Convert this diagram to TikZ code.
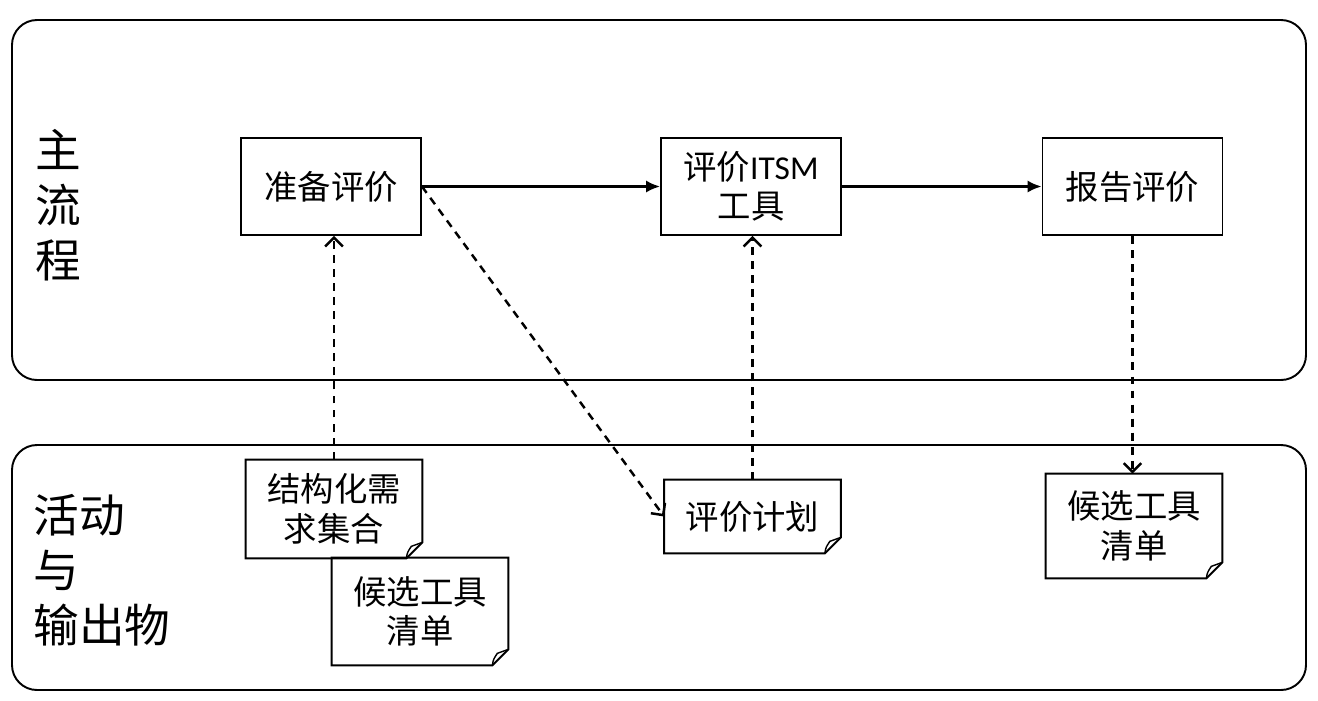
\documentclass[tikz,border=0pt]{standalone}
\usepackage{fontspec}
\setmainfont{Noto Sans CJK SC}
\newfontfamily\latinfont{Carlito}
\usetikzlibrary{arrows.meta,positioning}

\tikzset{
  lane/.style={draw, line width=1.1pt, rounded corners=0.5cm},
  lanelabel/.style={font=\fontsize{26}{31.3}\selectfont, inner sep=0pt},
  stagebox/.style={draw, line width=1.1pt, minimum width=3.6cm, minimum height=1.94cm, align=center, inner sep=2pt, font=\fontsize{19}{22.5}\selectfont},
  docbox/.style={minimum width=3.52cm, align=center, inner sep=2pt, font=\fontsize{19}{22.5}\selectfont},
  flow/.style={-{Latex[length=8pt,width=7pt]}, line width=1.4pt},
  dep/.style={-{Straight Barb[length=5pt,width=10pt,line width=1.4pt]}, line width=1.4pt, dash pattern=on 4.5pt off 3.5pt},
}

% document outline with a folded corner
\newcommand{\docoutline}[1]{%
  \draw[line width=1.1pt] (#1.north west) -- (#1.north east) -- ([yshift=0.32cm]#1.south east) -- ([xshift=-0.32cm]#1.south east) -- (#1.south west) -- cycle;
  \draw[line width=0.8pt] ([xshift=-0.32cm]#1.south east) .. controls ([xshift=-0.3cm,yshift=0.12cm]#1.south east) .. ([xshift=-0.22cm,yshift=0.24cm]#1.south east) -- ([yshift=0.32cm]#1.south east);
}

\begin{document}
\begin{tikzpicture}[x=0.02cm, y=-0.02cm]
\useasboundingbox (0,0) rectangle (1318,700);

% lanes
\draw[lane] (12,20) rectangle (1306,380);
\draw[lane] (12,445) rectangle (1306,690);
\node[lanelabel, align=center] (mainlbl) at (58,205) {主\\流\\程};
\node[lanelabel, align=left, anchor=west] (actlbl) at (33,570) {活动\\与\\输出物};

% main stages
\node[stagebox] (prep) at (331,186.5) {准备评价};
\node[stagebox] (eval) at (751,186.5) {评价{\latinfont ITSM}\\工具};
\node[stagebox] (report) at (1132.5,186.5) {报告评价};

% outputs
\node[docbox, minimum height=1.96cm] (reqs) at (334,509) {结构化需\\求集合};
\node[docbox, minimum height=2.14cm] (tools) at (420,611.5) {候选工具\\清单};
\node[docbox, minimum height=1.46cm] (plan) at (752.5,516.5) {评价计划};
\node[docbox, minimum height=2.08cm] (list) at (1134,526) {候选工具\\清单};
\docoutline{reqs}
\docoutline{tools}
\docoutline{plan}
\docoutline{list}

% connectors
\draw[flow] (prep) -- (eval);
\draw[flow] (eval) -- (report);
\draw[dep] (reqs.north) -- (reqs.north |- prep.south);
\draw[dep] (prep.east) -- (plan.west);
\draw[dep] (plan.north) -- (plan.north |- eval.south);
\draw[dep] (report.south) -- (report.south |- list.north);
\end{tikzpicture}
\end{document}
